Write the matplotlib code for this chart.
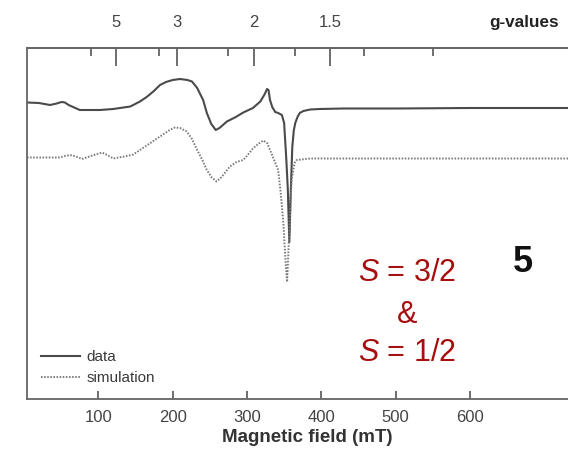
import matplotlib
matplotlib.use("Agg")
import numpy as np
import matplotlib.pyplot as plt

plt.rcParams['font.family'] = ['Liberation Sans', 'DejaVu Sans']
plt.rcParams['mathtext.fontset'] = 'custom'
plt.rcParams['mathtext.rm'] = 'Liberation Sans'
plt.rcParams['mathtext.it'] = 'Liberation Sans:italic'

# field (mT) and intensity (a.u.)
field_data = [4, 20, 35, 44, 48, 51, 55, 60, 66, 75, 90, 102, 120, 143, 156,
              165, 174, 183, 191, 200, 210, 220, 226, 233, 241, 246, 252, 258,
              263, 273, 285, 295, 308, 318, 324, 327, 329, 331, 334, 338, 342,
              347, 350, 353, 355, 357, 359, 361, 363, 365, 368, 371, 376, 385,
              398, 430, 500, 600, 732]
int_data = [0.11, 0.10, 0.06, 0.09, 0.11, 0.12, 0.11, 0.06, 0.02, -0.04,
            -0.04, -0.04, -0.02, 0.03, 0.13, 0.22, 0.33, 0.46, 0.52, 0.56,
            0.58, 0.56, 0.53, 0.40, 0.16, -0.10, -0.32, -0.44, -0.40, -0.27,
            -0.18, -0.09, 0.00, 0.13, 0.28, 0.38, 0.36, 0.16, 0.02, -0.08,
            -0.10, -0.14, -0.30, -1.04, -1.64, -2.68, -1.64, -0.78, -0.45,
            -0.30, -0.18, -0.10, -0.06, -0.03, -0.02, -0.01, -0.01, 0.00, 0.00]

field_sim = [4, 48, 55, 62, 70, 78, 90, 105, 112, 120, 135, 147, 166, 185, 196,
             203, 210, 219, 226, 233, 240, 246, 252, 259, 266, 277, 286, 295,
             302, 308, 315, 322, 327, 331, 336, 342, 345, 349, 352, 354, 357,
             360, 364, 367, 385, 732]
int_sim = [0.01, 0.01, 0.04, 0.06, 0.03, -0.02, 0.04, 0.11, 0.06, -0.01, 0.03,
           0.07, 0.26, 0.45, 0.56, 0.61, 0.60, 0.53, 0.38, 0.16, -0.04, -0.24,
           -0.38, -0.47, -0.38, -0.17, -0.08, -0.04, 0.08, 0.19, 0.28, 0.35,
           0.30, 0.16, -0.02, -0.24, -0.64, -1.30, -2.10, -2.48, -1.44, -0.44,
           -0.10, -0.04, -0.01, -0.01]
sim_offset = 1.0

freq_ghz = 8.65
g_major = [5, 3, 2, 1.5]
g_labels = ['5', '3', '2', '1.5']
top_minor = [90, 182, 274, 365, 457, 550]
bottom_ticks = [100, 200, 300, 400, 500, 600]

fig = plt.figure(figsize=(5.68, 4.51), dpi=100)
ax = fig.add_axes([27 / 568, 1 - 399 / 451, 1 - 27 / 568, (399 - 48) / 451])

ax.plot(field_data, int_data, color='#4a4a4a', lw=1.5, label='data',
        solid_joinstyle='round')
ax.plot(field_sim, np.array(int_sim) - sim_offset, color='#7a7a7a', lw=1.4,
        linestyle=(0, (0.8, 0.8)), label='simulation')

ax.set_xlim(4, 732)
ax.set_ylim(-5.82, 1.2)
ax.set_yticks([])
ax.set_xticks(bottom_ticks)
ax.tick_params(axis='x', direction='in', length=6, width=1.2, color='#555555',
               labelsize=12, labelcolor='#444444', pad=8)
for side in ['left', 'bottom', 'top']:
    ax.spines[side].set_color('#666666')
    ax.spines[side].set_linewidth(1.3)
ax.spines['right'].set_visible(False)

# g-value axis on top
b_const = 71.4477 * freq_ghz
secax = ax.secondary_xaxis('top')
secax.set_xticks([b_const / g for g in g_major])
secax.set_xticklabels(g_labels)
secax.set_xticks(top_minor, minor=True)
secax.tick_params(which='major', direction='in', length=13, width=1.2,
                  color='#555555', labelsize=12, labelcolor='#444444', pad=13)
secax.tick_params(which='minor', direction='in', length=6, width=1.2,
                  color='#555555')
secax.spines['top'].set_color('#666666')
secax.spines['top'].set_linewidth(1.3)

fig.text(524 / 568, 1 - 22 / 451, 'g-values', ha='center', va='center',
         fontsize=12.3, fontweight='bold', color='#222222')
fig.text(307 / 568, 1 - 437 / 451, 'Magnetic field (mT)', ha='center',
         va='center', fontsize=13.5, fontweight='bold', color='#333333')

ax.legend(loc='lower left', bbox_to_anchor=(0.0, 0.0), frameon=False,
          fontsize=11, handlelength=2.6, handletextpad=0.4,
          labelspacing=0.45, labelcolor='#3a3a3a')

red = '#a50f0f'
fig.text(407 / 568, 1 - 273 / 451, r'$S$ = 3/2', ha='center', va='center',
         fontsize=22, color=red)
fig.text(407 / 568, 1 - 315 / 451, '&', ha='center', va='center',
         fontsize=22, color=red)
fig.text(407 / 568, 1 - 353 / 451, r'$S$ = 1/2', ha='center', va='center',
         fontsize=22, color=red)
fig.text(523 / 568, 1 - 263 / 451, '5', ha='center', va='center',
         fontsize=26, fontweight='bold', color='#111111')

fig.savefig('out.png', dpi=100)
